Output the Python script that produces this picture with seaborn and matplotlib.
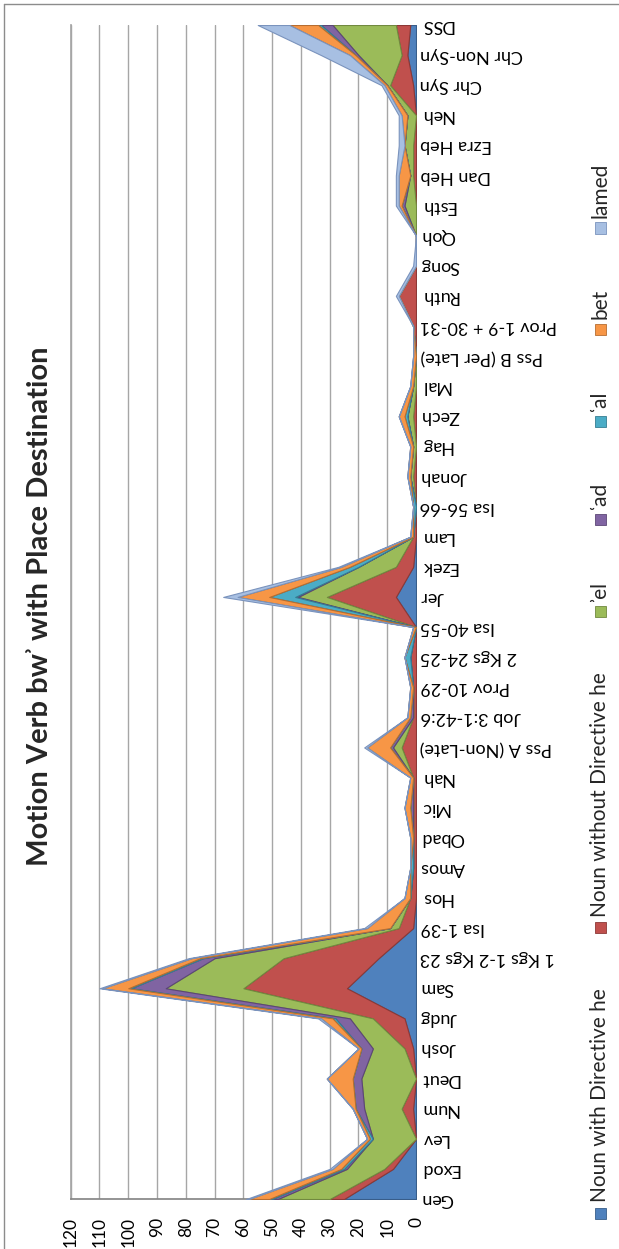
import numpy as np
import matplotlib.pyplot as plt
import seaborn as sns
from matplotlib.patches import Rectangle
from matplotlib.lines import Line2D

# Data
books = ['Gen', 'Exod', 'Lev', 'Num', 'Deut', 'Josh', 'Judg', 'Sam', '1 Kgs 1-2 Kgs 23', 'Isa 1-39',
         'Hos', 'Amos', 'Obad', 'Mic', 'Nah', 'Pss A (Non-Late)', 'Job 3:1-42:6', 'Prov 10-29',
         '2 Kgs 24-25', 'Isa 40-55', 'Jer', 'Ezek', 'Lam', 'Isa 56-66', 'Jonah', 'Hag', 'Zech', 'Mal',
         'Pss B (Per Late)', 'Prov 1-9 + 30-31', 'Ruth', 'Song', 'Qoh', 'Esth', 'Dan Heb', 'Ezra Heb',
         'Neh', 'Chr Syn', 'Chr Non-Syn', 'DSS']

noun_dir_he = [25, 8, 0, 1, 0, 1, 4, 24, 13, 1, 0, 0, 0, 0, 0, 0, 0, 0, 0, 0,
               7, 1, 0, 0, 0, 0, 0, 0, 0, 0, 0, 0, 0, 0, 0, 0, 0, 1, 3, 2]
noun_no_he = [5, 3, 0, 4, 0, 3, 11, 36, 33, 5, 2, 1, 1, 1, 1, 5, 1, 1, 2, 0,
              24, 6, 1, 0, 1, 0, 1, 0, 0, 1, 6, 0, 0, 0, 1, 1, 0, 8, 2, 5]
el = [18, 13, 15, 13, 19, 11, 8, 27, 24, 3, 0, 0, 0, 0, 0, 3, 0, 0, 0, 0,
      10, 13, 0, 0, 1, 1, 2, 1, 0, 0, 0, 0, 0, 4, 1, 3, 3, 1, 15, 22]
ad = [2, 1, 0, 3, 3, 4, 5, 12, 4, 0, 0, 0, 0, 1, 0, 1, 1, 0, 0, 0,
      1, 0, 0, 0, 0, 0, 0, 0, 0, 0, 0, 0, 0, 1, 0, 0, 0, 0, 1, 4]
al = [1, 1, 1, 0, 0, 0, 1, 1, 1, 0, 0, 1, 0, 0, 0, 0, 0, 0, 2, 0,
      9, 3, 0, 1, 0, 0, 1, 0, 0, 0, 0, 0, 0, 0, 0, 0, 0, 0, 0, 1]
bet = [7, 3, 1, 1, 9, 1, 4, 9, 3, 8, 2, 0, 1, 2, 1, 8, 1, 1, 0, 1,
       11, 3, 1, 0, 1, 1, 2, 1, 1, 0, 0, 0, 0, 1, 4, 0, 2, 1, 2, 10]
lamed = [1, 1, 0, 0, 0, 0, 1, 1, 1, 1, 0, 0, 0, 0, 0, 1, 0, 0, 0, 0,
         5, 1, 0, 0, 0, 0, 0, 0, 0, 0, 1, 1, 0, 1, 1, 2, 1, 1, 10, 11]

series_names = ['Noun with Directive he', 'Noun without Directive he',
                '\u02beel', '\u02bfad', '\u02bfal', 'bet', 'lamed']
series_vals = [noun_dir_he, noun_no_he, el, ad, al, bet, lamed]
colors = ['#4f81bd', '#c0504d', '#9bbb59', '#8064a2', '#4bacc6', '#f79646', '#a7bfe2']
edges = ['#385d8a', '#8c3836', '#71893f', '#5c4776', '#357d91', '#b66d31', '#7a93bd']

sns.set_theme(style='white')
plt.rcParams['font.family'] = ['Lato', 'DejaVu Sans']

W, H = 619, 1249
fig = plt.figure(figsize=(W / 100, H / 100), dpi=100)
# plot area: value axis runs right-to-left, categories bottom-to-top
ax = fig.add_axes([70.7 / W, 1 - 1199 / H, (416 - 70.7) / W, (1199 - 25) / H])

y = np.arange(len(books))
base = np.zeros(len(books))
for vals, c, ec in zip(series_vals, colors, edges):
    top = base + np.array(vals, dtype=float)
    ax.fill_betweenx(y, base, top, facecolor=c, edgecolor=ec, linewidth=0.8, zorder=3)
    base = top

ax.set_xlim(120, 0)
ax.set_ylim(0, len(books) - 1)
ax.set_xticks(range(0, 121, 10))
ax.grid(axis='x', color='#a6a6a6', linewidth=1)
ax.grid(axis='y', visible=False)
ax.set_axisbelow(True)

ax.yaxis.tick_right()
ax.set_yticks(y)
ax.set_yticklabels(books, rotation=180, va='center', ha='left')
ax.tick_params(axis='y', length=0, pad=3, labelsize=13, labelcolor='#000000')
ax.tick_params(axis='x', length=0, pad=13, labelsize=12.5, labelrotation=90, labelcolor='#000000')

for s in ['top', 'right']:
    ax.spines[s].set_visible(False)
ax.spines['bottom'].set_color('#868686')
ax.spines['left'].set_color('#a6a6a6')

# title (reads bottom to top)
fig.text(40 / W, 1 - 606 / H, 'Motion Verb bw\u02be with Place Destination', rotation=90,
         ha='center', va='center', fontsize=21, fontweight='bold')

# legend, rotated; entries laid out by measured text length
leg_x = 600
first_sq, last_sq = 1213, 228
labels = [fig.text(leg_x / W, 0.5, n, rotation=90, ha='center', va='bottom', fontsize=15)
          for n in series_names]
renderer = fig.canvas.get_renderer()
lens = [t.get_window_extent(renderer).height for t in labels]
sq, sq_pad = 11, 5
gap = ((first_sq - last_sq) - sum(lens[:-1]) - (len(lens) - 1) * (sq / 2 + sq_pad)) / (len(lens) - 1)
yp = first_sq
for t, c, ec, ln in zip(labels, colors, edges, lens):
    fig.add_artist(Rectangle(((leg_x - sq / 2) / W, 1 - (yp + sq / 2) / H), sq / W, sq / H,
                             transform=fig.transFigure, facecolor=c, edgecolor=ec, linewidth=0.6))
    t.set_position((leg_x / W, 1 - (yp - sq / 2 - sq_pad) / H))
    yp = yp - sq / 2 - sq_pad - ln - gap

# chart border
fig.add_artist(Line2D([4 / W, 1], [1 - 4 / H, 1 - 4 / H], transform=fig.transFigure,
                      color='#8c8c8c', linewidth=1))
fig.add_artist(Line2D([4 / W, 4 / W], [0, 1 - 4 / H], transform=fig.transFigure,
                      color='#8c8c8c', linewidth=1))

fig.savefig('out.png', dpi=100)
